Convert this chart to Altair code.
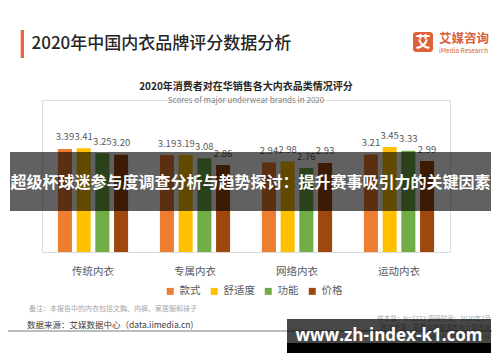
import altair as alt
import pandas as pd

FONT = "Noto Sans CJK SC"

categories = ["传统内衣", "专属内衣", "网络内衣", "运动内衣"]
series = ["款式", "舒适度", "功能", "价格"]
colors = ["#ED7D31", "#FFC000", "#70AD47", "#9E480E"]
values = {
    "款式":   [3.39, 3.19, 2.94, 3.21],
    "舒适度": [3.41, 3.19, 2.98, 3.45],
    "功能":   [3.25, 3.08, 2.76, 3.33],
    "价格":   [3.20, 2.86, 2.93, 2.99],
}

title_text = "2020年中国内衣品牌评分数据分析"
chart_title = "2020年消费者对在华销售各大内衣品类情况评分"
chart_subtitle = "Scores of major underwear brands in 2020"
banner_text = "超级杯球迷参与度调查分析与趋势探讨：提升赛事吸引力的关键因素"
note_text = "备注：本报告中的内衣包括文胸、内裤、家居服和袜子"
source_text = "数据来源：艾媒数据中心（data.iimedia.cn)"
right_notes = ["样本量：N=2222    调研时间：2020年7月", "样本来源：草莓派数据调查与计算系统", "©2020  iiMedia Research Inc"]
url_text = "www.zh-index-k1.com"

rows = []
for s in series:
    for c, v in zip(categories, values[s]):
        rows.append({"类别": c, "指标": s, "评分": v})
df = pd.DataFrame(rows)

base = alt.Chart(df).encode(
    x=alt.X("类别:N", sort=categories,
            scale=alt.Scale(paddingInner=0, paddingOuter=0),
            axis=alt.Axis(title=None, labelAngle=0, ticks=False, tickSize=0,
                          labelPadding=14, labelFontSize=10.5, labelColor="#595959",
                          domainColor="#d9d9d9", domainWidth=1, labelFont=FONT)),
    xOffset=alt.XOffset("指标:N", sort=series,
                        scale=alt.Scale(paddingInner=0.25, paddingOuter=0.85)),
    y=alt.Y("评分:Q", scale=alt.Scale(domain=[0, 5]), axis=None),
)

bars = base.mark_bar().encode(
    color=alt.Color("指标:N", sort=series,
                    scale=alt.Scale(domain=series, range=colors),
                    legend=alt.Legend(title=None, orient="none", legendX=123, legendY=186,
                                      direction="horizontal", symbolType="square",
                                      symbolSize=49, symbolStrokeWidth=0,
                                      labelFontSize=10.5, labelColor="#595959",
                                      labelOffset=4, columnPadding=8, padding=0,
                                      labelFont=FONT))
)

labels = base.mark_text(fontSize=9.5, color="#595959", baseline="middle", dy=-11.5,
                        font=FONT).encode(text=alt.Text("评分:Q", format=".2f"))


def txt(t, x, y, size, color, weight="normal", align="left", font=FONT):
    return alt.Chart(pd.DataFrame({"t": [t]})).mark_text(
        fontSize=size, color=color, fontWeight=weight, align=align,
        baseline="middle", font=font
    ).encode(text="t:N", x=alt.value(x), y=alt.value(y))


def box(x1, x2, y1, y2, color, opacity=1.0, radius=0):
    return alt.Chart(pd.DataFrame({"a": [0]})).mark_rect(
        color=color, opacity=opacity, cornerRadius=radius
    ).encode(x=alt.value(x1), x2=alt.value(x2), y=alt.value(y1), y2=alt.value(y2))


header_bar = box(-21.3, -18, -70, -42, "#E5693B")
header = txt(title_text, -10.5, -56, 17, "#262626", 500)
logo_box = box(371, 391, -68, -48, "#DF6236", radius=3)
logo_char = txt("艾", 381, -58, 15, "#ffffff", "bold", "center")
logo_name = txt("艾媒咨询", 397, -61, 12.5, "#D9603B", "bold")
logo_en = txt("iMedia Research", 397, -49.5, 6.5, "#D9603B")
sub1 = txt(chart_title, 204, -13, 10, "#262626", "bold", "center")
sub2 = txt(chart_subtitle, 204, 1, 8, "#7f7f7f", "normal", "center")

banner = box(-32, 449, 52, 111, "#000000", 0.62)
banner_t = txt(banner_text, 208.5, 83, 16, "#ffffff", "bold", "center")

note = txt(note_text, -13, 209, 7, "#a6a6a6")
source = txt(source_text, -15, 225, 8.5, "#404040")
rule = alt.Chart(pd.DataFrame({"a": [0]})).mark_rule(color="#a6a6a6", strokeWidth=1.5).encode(
    x=alt.value(-50), x2=alt.value(460), y=alt.value(231))
rn1 = txt(right_notes[0], 449, 219, 6.5, "#a6a6a6", align="right")
rn2 = txt(right_notes[1], 449, 228, 6.5, "#a6a6a6", align="right")
rn3 = txt(right_notes[2], 449, 237, 6.5, "#a6a6a6", align="right")

black1 = box(245, 449, 219, 243, "#000000", 0.72)
black2 = box(245, 449, 243, 253, "#000000")
url = txt(url_text, 347, 236, 17, "#ffffff", "bold", "center", font="Open Sans")

chart = alt.layer(
    bars, labels, header_bar, header, logo_box, logo_char, logo_name, logo_en, sub1, sub2,
    banner, banner_t, note, source, rule, rn1, rn2, rn3, black1, black2, url
).properties(
    width=408, height=152,
    autosize=alt.AutoSizeParams(type="none"),
    padding={"left": 34, "top": 92, "right": 42, "bottom": 102},
    background="#ffffff",
).configure_view(stroke=None).configure(font=FONT)

chart.save("out.html", embed_options={"renderer": "svg", "actions": False})
